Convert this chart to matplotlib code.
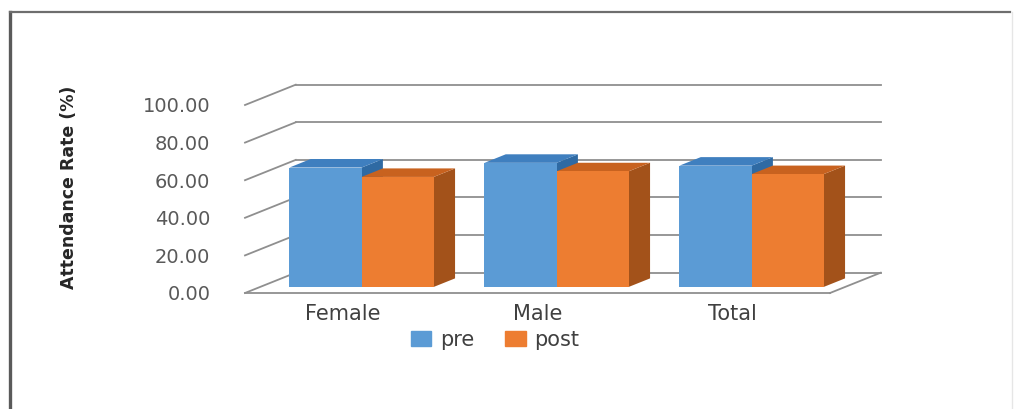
import matplotlib.pyplot as plt
from matplotlib.patches import Patch
import numpy as np

categories = ["Female", "Male", "Total"]
pre_values = [63.5, 66.0, 64.5]
post_values = [58.5, 61.5, 60.0]
series_names = ["pre", "post"]
y_ticks = [0, 20, 40, 60, 80, 100]

# цвета граней (перед, верх, бок)
pre_colors = ("#5b9bd5", "#3f7fbf", "#2f6aa3")
post_colors = ("#ed7d31", "#c8621f", "#a3521a")

W, H = 1016, 409
fig = plt.figure(figsize=(W / 100, H / 100), dpi=100)
fig.patch.set_facecolor("white")

# передний план пола: x 245..830 px, y 0..100 -> 293..105 px
ax = fig.add_axes([245 / W, (H - 293) / H, 585 / W, 188 / H])
ax.set_xlim(0, 3)
ax.set_ylim(0, 100)

ddx, ddy = 0.26, 10.8     # глубина "3D" сцены в единицах данных
z0, z1 = 0.3, 0.72        # передняя и задняя плоскость столбиков
bar_w = 0.37
grid_c = "#8f8f8f"

# задняя стенка, диагонали и пол
for v in y_ticks:
    ax.plot([0, ddx], [v, v + ddy], color=grid_c, lw=1.3, clip_on=False, zorder=1)
    ax.plot([ddx, 3 + ddx], [v + ddy, v + ddy], color=grid_c, lw=1.3, clip_on=False, zorder=1)
ax.plot([0, 3], [0, 0], color=grid_c, lw=1.3, clip_on=False, zorder=1)
ax.plot([3, 3 + ddx], [0, ddy], color=grid_c, lw=1.3, clip_on=False, zorder=1)

x = np.arange(len(categories))
fx, fy = z0 * ddx, z0 * ddy
bx, by = (z1 - z0) * ddx, (z1 - z0) * ddy

z = 2
for k, (vals, cols) in enumerate([(pre_values, pre_colors), (post_values, post_colors)]):
    for i, v in enumerate(vals):
        left = x[i] + 0.52 - bar_w + k * bar_w + fx
        right = left + bar_w
        top = v + fy
        # бок
        ax.fill([right, right + bx, right + bx, right], [fy, fy + by, top + by, top],
                color=cols[2], zorder=z + i * 10 + k * 3, clip_on=False, lw=0)
        # верх
        ax.fill([left, right, right + bx, left + bx], [top, top, top + by, top + by],
                color=cols[1], zorder=z + i * 10 + k * 3 + 1, clip_on=False, lw=0)
    ax.bar(x + 0.52 - bar_w / 2 + k * bar_w + fx, vals, width=bar_w, bottom=fy,
           color=cols[0], zorder=z + 2 + k * 3, clip_on=False, label=series_names[k])

# передние грани поверх боковых граней соседей
for k, cont in enumerate(ax.containers):
    for i, rect in enumerate(cont):
        rect.set_zorder(z + i * 10 + k * 3 + 2)

for s in ax.spines.values():
    s.set_visible(False)
ax.set_xticks(x + 0.5)
ax.set_xticklabels(categories, fontsize=15, color="#404040")
ax.set_yticks(y_ticks)
ax.set_yticklabels([f"{v:.2f}" for v in y_ticks], fontsize=14, color="#595959")
ax.tick_params(axis="x", length=0, pad=8)
ax.tick_params(axis="y", length=0, pad=25)
ax.set_ylabel("Attendance Rate (%)", fontsize=12.5, fontweight="bold", color="#262626")
ax.yaxis.set_label_coords(-0.285, 0.56)

handles = [Patch(color=pre_colors[0]), Patch(color=post_colors[0])]
fig.legend(handles, series_names, loc="center", bbox_to_anchor=(495 / W, (H - 340) / H),
           ncol=2, frameon=False, fontsize=15, handlelength=1.0, handleheight=0.7,
           handletextpad=0.4, columnspacing=1.5, labelcolor="#404040")

# рамка
fig.add_artist(plt.Line2D([10 / W, 10 / W], [0, 1 - 12 / H], color="#5a5a5a", lw=2.4))
fig.add_artist(plt.Line2D([10 / W, 1010 / W], [1 - 12 / H, 1 - 12 / H], color="#6e6e6e", lw=1.6))
fig.add_artist(plt.Line2D([1012 / W, 1012 / W], [0, 1 - 12 / H], color="#e6e6e6", lw=1.0))

fig.savefig("out.png", dpi=100)
